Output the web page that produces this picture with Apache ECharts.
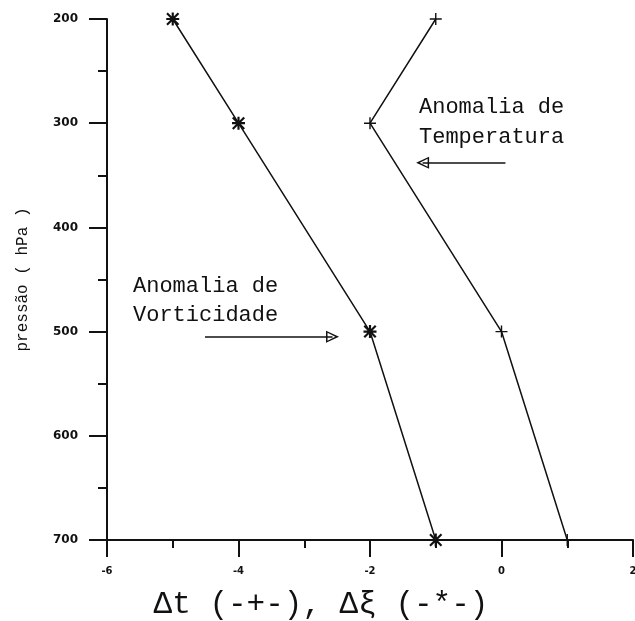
<!DOCTYPE html>
<html>
<head>
<meta charset="utf-8">
<script src="https://cdn.jsdelivr.net/npm/echarts@6/dist/echarts.min.js"></script>
<style>
  html, body { margin: 0; padding: 0; background: #fff; }
  #chart { width: 635px; height: 621px; }
</style>
</head>
<body>
<div id="chart"></div>
<script>
// pressure levels (hPa) and the two anomaly profiles
const pressure = [200, 300, 500, 700]
const tempAnomaly = [-1, -2, 0, 1]
const vortAnomaly = [-5, -4, -2, -1]

// annotation arrows, in data units: [xStart, xEnd, pressure]
const tempArrow = [0.06, -1.2, 338]
const vortArrow = [-4.51, -2.57, 505]

const mono = 'Liberation Mono'
const plusSymbol = 'path://M5.3,0h1.4v12h-1.4zM0,5.3h12v1.4h-12z'
const starSymbol = 'path://M5,0h2v12h-2zM0,5h12v2h-12zM1.4,0L12,10.6L10.6,12L0,1.4zM10.6,0L12,1.4L1.4,12L0,10.6z'
const openHead = 'path://M0,0L7,14L-7,14ZM0,4L-4.6,12.4L4.6,12.4Z'

const toPairs = (xs) => xs.map((x, i) => [x, pressure[i]])

const arrowLine = (a, startSymbol, endSymbol) => ({
  silent: true,
  symbol: [startSymbol, endSymbol],
  symbolSize: [12, 13],
  label: { show: false },
  lineStyle: { color: '#111', width: 1.5, type: 'solid' },
  data: [[{ coord: [a[0], a[2]] }, { coord: [a[1], a[2]] }]]
})

const chart = echarts.init(document.getElementById('chart'))
chart.setOption({
  animation: false,
  backgroundColor: '#fff',
  grid: { left: 107, right: 2, top: 19, bottom: 81, outerBoundsMode: 'none', containLabel: false },
  xAxis: {
    type: 'value',
    min: -6,
    max: 2,
    interval: 2,
    name: 'Δt (-+-), Δξ (-*-)',
    nameLocation: 'middle',
    nameGap: 49,
    nameTextStyle: { fontFamily: mono, fontSize: 31, color: '#111', padding: [0, 98, 0, 0] },
    axisLine: { onZero: false, lineStyle: { color: '#111', width: 2 } },
    axisTick: { length: 17, lineStyle: { color: '#111', width: 2 } },
    minorTick: { show: true, splitNumber: 2, length: 8, lineStyle: { color: '#111', width: 2 } },
    splitLine: { show: false },
    axisLabel: { margin: 26, fontFamily: 'DejaVu Sans', fontWeight: 'bold', fontSize: 10, color: '#111' }
  },
  yAxis: {
    type: 'value',
    inverse: true,
    min: 200,
    max: 700,
    interval: 100,
    name: 'pressão ( hPa )',
    nameLocation: 'middle',
    nameGap: 76,
    nameTextStyle: { fontFamily: mono, fontSize: 16, color: '#111' },
    axisLine: { onZero: false, lineStyle: { color: '#111', width: 2 } },
    axisTick: { length: 18, lineStyle: { color: '#111', width: 2 } },
    minorTick: { show: true, splitNumber: 2, length: 9, lineStyle: { color: '#111', width: 2 } },
    splitLine: { show: false },
    axisLabel: { margin: 29, fontFamily: 'DejaVu Sans', fontWeight: 'bold', fontSize: 12, color: '#111' }
  },
  graphic: [
    {
      type: 'text', left: 419, top: 92,
      style: { text: 'Anomalia de\nTemperatura', font: '22px "Liberation Mono"', lineHeight: 30, fill: '#111' }
    },
    {
      type: 'text', left: 133, top: 272,
      style: { text: 'Anomalia de\nVorticidade', font: '22px "Liberation Mono"', lineHeight: 29, fill: '#111' }
    }
  ],
  series: [
    {
      name: 'temperatura',
      type: 'line',
      data: toPairs(tempAnomaly),
      symbol: plusSymbol,
      symbolSize: 12,
      itemStyle: { color: '#111' },
      lineStyle: { color: '#111', width: 1.5 },
      markLine: arrowLine(tempArrow, 'none', openHead)
    },
    {
      name: 'vorticidade',
      type: 'line',
      data: toPairs(vortAnomaly),
      symbol: starSymbol,
      symbolSize: 13,
      itemStyle: { color: '#111' },
      lineStyle: { color: '#111', width: 1.5 },
      markLine: arrowLine(vortArrow, 'none', openHead)
    }
  ]
})
</script>
</body>
</html>
